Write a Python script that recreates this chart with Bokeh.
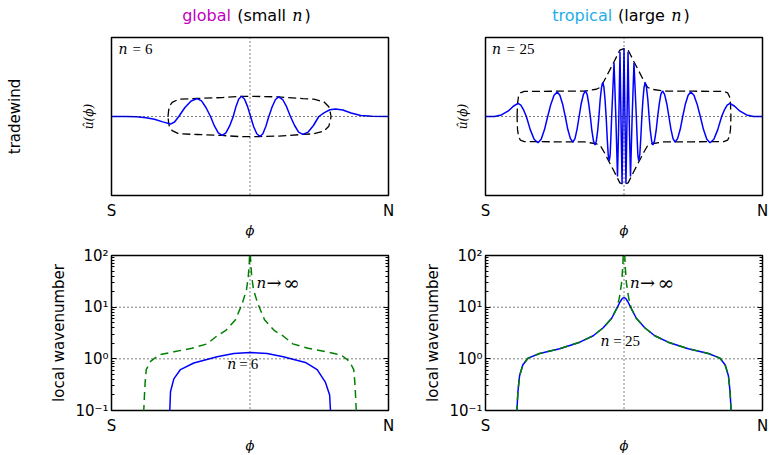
from math import pi
from bokeh.plotting import figure
from bokeh.models import (Range1d, FixedTicker, CustomJSTickFormatter, Label, Span,
                          LogAxis, LinearAxis)
from bokeh.layouts import row, column
from bokeh.embed import file_html
from bokeh.resources import INLINE
from bokeh.core.properties import value

SANS = "DejaVu Sans"
SERIF = "DejaVu Serif"
ROMAN = "Liberation Serif"

# ---------------- data ----------------
xtick_vals = [-1, 1]
xtick_labels = ["S", "N"]
ytick_vals = [0.1, 1, 10, 100]
ytick_labels = ["10\u207b\u00b9", "10\u2070", "10\u00b9", "10\u00b2"]
yminor_vals = [0.2, 0.3, 0.4, 0.5, 0.6, 0.7, 0.8, 0.9,
               2, 3, 4, 5, 6, 7, 8, 9,
               20, 30, 40, 50, 60, 70, 80, 90]
grid_decades = [1, 10]

# top-left: wave n=6
u6_x = [-1.0, -0.9, -0.82, -0.75, -0.69, -0.63, -0.574, -0.545, -0.514, -0.47, -0.425, -0.381,
        -0.35, -0.318, -0.285, -0.257, -0.229, -0.201, -0.174, -0.147, -0.121, -0.101, -0.081,
        -0.061, -0.04, -0.018, 0.004, 0.026, 0.049, 0.071, 0.093, 0.114, 0.136, 0.160, 0.184,
        0.208, 0.236, 0.264, 0.292, 0.322, 0.351, 0.381, 0.42, 0.458, 0.497, 0.537, 0.577,
        0.617, 0.67, 0.73, 0.80, 0.88, 1.0]
u6_y = [0, 0, -0.003, -0.015, -0.035, -0.068, -0.096, -0.07, 0, 0.114, 0.197, 0.227, 0.197,
        0.114, 0, -0.12, -0.208, -0.24, -0.208, -0.12, 0, 0.128, 0.222, 0.256, 0.222, 0.128, 0,
        -0.127, -0.219, -0.253, -0.219, -0.127, 0, 0.124, 0.215, 0.248, 0.215, 0.124, 0, -0.114,
        -0.197, -0.227, -0.197, -0.114, 0, 0.05, 0.085, 0.095, 0.083, 0.045, 0.012, 0.002, 0]
env6_x = [-0.592, -0.588, -0.582, -0.562, -0.514, -0.381, -0.201, -0.061, 0.071, 0.208, 0.381,
          0.461, 0.533, 0.569, 0.581, 0.585]
env6_a = [0.0, 0.07, 0.13, 0.178, 0.219, 0.228, 0.24, 0.256, 0.253, 0.248, 0.227, 0.219,
          0.186, 0.124, 0.041, 0.0]

# top-right: wave n=25
u25_x = [-1.0, -0.935, -0.885, -0.835, -0.799, -0.765, -0.745, -0.725, -0.705, -0.677, -0.649,
         -0.621, -0.598, -0.574, -0.551, -0.528, -0.505, -0.482, -0.463, -0.443, -0.424, -0.406,
         -0.387, -0.369, -0.354, -0.339, -0.324, -0.309, -0.293, -0.278, -0.266, -0.255, -0.243,
         -0.232, -0.220, -0.209, -0.200, -0.190, -0.181, -0.172, -0.162, -0.153, -0.145, -0.137,
         -0.129, -0.121, -0.114, -0.106, -0.100, -0.095, -0.089, -0.072, -0.059, -0.047, -0.037,
         -0.029, -0.022, -0.014, -0.007, 0.0,
         0.007, 0.014, 0.022, 0.029, 0.037, 0.047, 0.059, 0.072, 0.089, 0.095, 0.100, 0.106,
         0.114, 0.121, 0.129, 0.137, 0.145, 0.153, 0.162, 0.172, 0.181, 0.190, 0.200, 0.209,
         0.220, 0.232, 0.243, 0.255, 0.266, 0.278, 0.293, 0.309, 0.324, 0.339, 0.354, 0.369,
         0.387, 0.406, 0.424, 0.443, 0.463, 0.482, 0.505, 0.528, 0.551, 0.574, 0.598, 0.621,
         0.649, 0.677, 0.705, 0.725, 0.745, 0.765, 0.799, 0.835, 0.885, 0.935, 1.0]
u25_y = [0, 0, 0.02, 0.07, 0.13, 0.165, 0.143, 0.083, 0, -0.166, -0.288, -0.332, -0.288, -0.166,
         0, 0.156, 0.269, 0.311, 0.269, 0.156, 0, -0.162, -0.28, -0.323, -0.28, -0.162, 0, 0.162,
         0.28, 0.323, 0.28, 0.162, 0, -0.18, -0.312, -0.36, -0.312, -0.18, 0, 0.215, 0.372, 0.43,
         0.372, 0.215, 0, -0.28, -0.485, -0.56, -0.485, -0.28, 0, 0.68, 0, -0.76, 0, 0.82, 0,
         -0.85, 0, 0.86,
         0, -0.85, 0, 0.82, 0, -0.76, 0, 0.68, 0, -0.28, -0.485, -0.56, -0.485, -0.28, 0, 0.215,
         0.372, 0.43, 0.372, 0.215, 0, -0.18, -0.312, -0.36, -0.312, -0.18, 0, 0.162, 0.28,
         0.323, 0.28, 0.162, 0, -0.162, -0.28, -0.323, -0.28, -0.162, 0, 0.156, 0.269, 0.311,
         0.269, 0.156, 0, -0.166, -0.288, -0.332, -0.288, -0.166, 0, 0.083, 0.143, 0.165, 0.13,
         0.07, 0.02, 0, 0]
env25_x = [-0.772, -0.769, -0.762, -0.748, -0.72, -0.5, -0.286, -0.2, -0.17, -0.142, -0.07,
           -0.03, 0.0, 0.03, 0.07, 0.142, 0.17, 0.2, 0.286, 0.5, 0.72, 0.748, 0.762, 0.769, 0.772]
env25_a = [0.0, 0.16, 0.25, 0.3, 0.318, 0.32, 0.322, 0.345, 0.37, 0.456, 0.70, 0.84, 0.86, 0.84,
           0.70, 0.456, 0.37, 0.345, 0.322, 0.32, 0.318, 0.3, 0.25, 0.16, 0.0]

# bottom-left: local wavenumber, n=6 and n->inf
k6_x = [-0.58, -0.579, -0.574, -0.55, -0.502, -0.406, -0.237, -0.117, 0.0, 0.124, 0.24, 0.40,
        0.485, 0.545, 0.575, 0.581, 0.582]
k6_y = [0.05, 0.1, 0.23, 0.41, 0.62, 0.83, 1.10, 1.27, 1.33, 1.27, 1.10, 0.85, 0.62, 0.35,
        0.2, 0.1, 0.05]
kinfL_x = [-0.770, -0.767, -0.762, -0.757, -0.749, -0.718, -0.658, -0.55, -0.42, -0.309,
           -0.237, -0.177, -0.105, -0.056, -0.025, -0.012, -0.005, -0.001,
           0.001, 0.005, 0.012, 0.025, 0.056, 0.105, 0.177, 0.237, 0.309, 0.42, 0.55, 0.658,
           0.718, 0.749, 0.757, 0.762, 0.767, 0.770]
kinfL_y = [0.05, 0.1, 0.2, 0.35, 0.62, 0.89, 1.19, 1.37, 1.6, 1.95, 2.8, 3.5, 5.7, 11.7, 22,
           40, 75, 150,
           150, 75, 40, 22, 11.7, 5.7, 3.5, 2.8, 1.95, 1.6, 1.37, 1.19, 0.89, 0.62, 0.35, 0.2,
           0.1, 0.05]

# bottom-right: local wavenumber, n=25 and n->inf
k25_x = [-0.775, -0.773, -0.766, -0.754, -0.730, -0.693, -0.609, -0.464, -0.319, -0.222,
         -0.15, -0.089, -0.053, -0.029, -0.012, 0.0, 0.012, 0.029, 0.053, 0.089, 0.15, 0.222,
         0.319, 0.464, 0.609, 0.693, 0.730, 0.754, 0.766, 0.773, 0.775]
k25_y = [0.05, 0.1, 0.23, 0.47, 0.77, 1.03, 1.27, 1.57, 2.1, 2.8, 4.0, 6.1, 9.4, 12.6, 14.8,
         15.3, 14.8, 12.6, 9.4, 6.1, 4.0, 2.8, 2.1, 1.57, 1.27, 1.03, 0.77, 0.47, 0.23, 0.1,
         0.05]
kinfR_x = [-0.775, -0.773, -0.766, -0.754, -0.730, -0.693, -0.609, -0.464, -0.319, -0.222,
           -0.15, -0.089, -0.053, -0.034, -0.017, -0.009, -0.003,
           0.003, 0.009, 0.017, 0.034, 0.053, 0.089, 0.15, 0.222, 0.319, 0.464, 0.609, 0.693,
           0.730, 0.754, 0.766, 0.773, 0.775]
kinfR_y = [0.05, 0.1, 0.23, 0.47, 0.77, 1.03, 1.27, 1.57, 2.1, 2.8, 4.0, 6.1, 9.4, 15, 30, 60,
           150,
           150, 60, 30, 15, 9.4, 6.1, 4.0, 2.8, 2.1, 1.57, 1.27, 1.03, 0.77, 0.47, 0.23, 0.1,
           0.05]

# ---------------- helpers ----------------
FMT_CODE = """
for (let i = 0; i < vals.length; i++) {
  if (Math.abs(vals[i] - tick) <= 1e-9 * Math.max(1, Math.abs(tick))) { return labels[i]; }
}
return "";
"""

BLUE = "#0000ff"
GREEN = "#008000"


def blank_axis(ax, label, font, size, style, standoff):
    ax.ticker = FixedTicker(ticks=[])
    ax.axis_line_color = None
    ax.major_tick_in = 0
    ax.major_tick_out = 0
    ax.minor_tick_in = 0
    ax.minor_tick_out = 0
    ax.major_label_standoff = 0
    ax.axis_label = label
    ax.axis_label_text_font = font
    ax.axis_label_text_font_size = size
    ax.axis_label_text_font_style = style
    ax.axis_label_text_color = "black"
    ax.axis_label_standoff = standoff


def make_fig(w, h, bl, br, bt, bb, log=False):
    kw = dict(width=w, height=h, output_backend="svg", toolbar_location=None,
              x_range=Range1d(-1, 1), min_border_left=bl, min_border_right=br,
              min_border_top=bt, min_border_bottom=bb)
    if log:
        p = figure(y_axis_type="log", y_range=Range1d(0.1, 100), **kw)
    else:
        p = figure(y_range=Range1d(-1, 1), **kw)
    p.grid.visible = False
    p.outline_line_color = "black"
    p.outline_line_width = 1.5
    p.outline_line_alpha = 1.0
    p.background_fill_color = "white"
    p.border_fill_color = "white"
    xa = p.xaxis[0]
    xa.ticker = FixedTicker(ticks=xtick_vals)
    xa.formatter = CustomJSTickFormatter(args=dict(vals=xtick_vals, labels=xtick_labels),
                                         code=FMT_CODE)
    xa.major_tick_in = 0
    xa.major_tick_out = 0
    xa.minor_tick_in = 0
    xa.minor_tick_out = 0
    xa.axis_line_color = None
    xa.major_label_text_font = SANS
    xa.major_label_text_font_size = "15px"
    xa.major_label_text_color = "black"
    xa.major_label_standoff = 6
    xa.axis_label = "\u03d5"
    xa.axis_label_text_font = SERIF
    xa.axis_label_text_font_size = "13px"
    xa.axis_label_text_font_style = "italic"
    xa.axis_label_text_color = "black"
    xa.axis_label_standoff = 0
    if log:
        ticker = FixedTicker(ticks=ytick_vals, minor_ticks=yminor_vals)
        ya = p.yaxis[0]
        ya.ticker = ticker
        ya.formatter = CustomJSTickFormatter(args=dict(vals=ytick_vals, labels=ytick_labels),
                                             code=FMT_CODE)
        ya.major_tick_in = 5
        ya.major_tick_out = 0
        ya.minor_tick_in = 3
        ya.minor_tick_out = 0
        ya.axis_line_color = None
        ya.major_tick_line_color = "black"
        ya.minor_tick_line_color = "black"
        ya.major_label_text_font = SANS
        ya.major_label_text_font_size = "15px"
        ya.major_label_text_color = "black"
        ya.major_label_standoff = 3
        ya.axis_label = "local wavenumber"
        ya.axis_label_text_font = SANS
        ya.axis_label_text_font_size = "15px"
        ya.axis_label_text_font_style = "normal"
        ya.axis_label_text_color = "black"
        ya.axis_label_standoff = 4
        ra = LogAxis(ticker=ticker, formatter=CustomJSTickFormatter(code="return '';"),
                     major_tick_in=5, major_tick_out=0, minor_tick_in=3, minor_tick_out=0,
                     axis_line_color=None, major_label_standoff=0,
                     major_tick_line_color="black", minor_tick_line_color="black")
        p.add_layout(ra, "right")
        for d in grid_decades:
            p.add_layout(Span(location=d, dimension="width", line_color="black",
                              line_dash="1 3", line_width=1))
    else:
        blank_axis(p.yaxis[0], "\u00fb(\u03d5)", SERIF, "12px", "italic", 16)
        p.add_layout(Span(location=0, dimension="width", line_color="black",
                          line_dash="1 3", line_width=1))
    p.add_layout(Span(location=0, dimension="height", line_color="black",
                      line_dash="1 3", line_width=1))
    return p


def lab(p, x, y, text, dx=0, dy=0, font=ROMAN, size="15px", style="normal", color="black",
        align="left", baseline="middle"):
    p.add_layout(Label(x=x, y=y, x_offset=dx, y_offset=dy, text=text, text_font=font,
                       text_font_size=size, text_font_style=style, text_color=color,
                       text_align=align, text_baseline=baseline))


def nlab(p, x, y, dx=0, dy=0, size="14px"):
    lab(p, x, y, "n", dx=dx, dy=dy, font=SERIF, size=size, style="italic")


def envelope(p, ex, ea):
    xs = list(ex) + list(ex[::-1])
    ys = list(ea) + [-a for a in ea[::-1]]
    p.line(xs, ys, line_color="black", line_width=1.3, line_dash="8 4")


# ---------------- header (column titles) ----------------
HEAD_W, HEAD_H = 769, 30
head = figure(width=HEAD_W, height=HEAD_H, output_backend="svg", toolbar_location=None,
              x_range=Range1d(0, HEAD_W), y_range=Range1d(0, HEAD_H),
              x_axis_type=None, y_axis_type=None,
              min_border_left=0, min_border_right=0, min_border_top=0, min_border_bottom=0)
head.grid.visible = False
head.outline_line_color = None
head.background_fill_color = "white"
head.border_fill_color = "white"


def htext(x, txt, color="black", font=SANS, style="normal"):
    head.text(x=[x], y=[15], text=[txt], text_font=value(font), text_font_size="16px",
              text_font_style=style, text_color=color, text_align="left",
              text_baseline="middle")


htext(181.7, "global", color="#bf00bf")
htext(236.7, "(small")
htext(291.7, "n", font=SERIF, style="italic")
htext(304.0, ")")
htext(551.7, "tropical", color="#1eaee8")
htext(617.6, "(large")
htext(670.7, "n", font=SERIF, style="italic")
htext(683.0, ")")

# ---------------- panels ----------------
LW, RW = 420, 349
TH, BH = 210, 215

f1 = make_fig(LW, TH, 111, 32, 7, 42)
f2 = make_fig(RW, TH, 65, 7, 7, 42)
f3 = make_fig(LW, BH, 111, 32, 15, 39, log=True)
f4 = make_fig(RW, BH, 65, 7, 15, 39, log=True)

# extra left axis on the top-left panel for the row label
row_axis = LinearAxis()
blank_axis(row_axis, "tradewind", SANS, "15px", "normal", 55)
f1.add_layout(row_axis, "left")

# top-left
envelope(f1, env6_x, env6_a)
f1.line(u6_x, u6_y, line_color=BLUE, line_width=1.5)
nlab(f1, -1, 1, dx=7, dy=-11.3)
lab(f1, -1, 1, "=", dx=21, dy=-11.3)
lab(f1, -1, 1, "6", dx=33.5, dy=-11.3)

# top-right
envelope(f2, env25_x, env25_a)
f2.line(u25_x, u25_y, line_color=BLUE, line_width=1.5)
nlab(f2, -1, 1, dx=6.5, dy=-11.3)
lab(f2, -1, 1, "=", dx=21, dy=-11.3)
lab(f2, -1, 1, "25", dx=34, dy=-11.3)

# bottom-left
f3.line(k6_x, k6_y, line_color=BLUE, line_width=1.5)
f3.line(kinfL_x, kinfL_y, line_color=GREEN, line_width=1.5, line_dash="8 5")
nlab(f3, 0.047, 29.5, size="15px")
lab(f3, 0.047, 29.5, "\u2192", dx=10, font=SERIF, size="18px")
lab(f3, 0.047, 29.5, "\u221e", dx=26.5, font=SERIF, size="20px")
nlab(f3, -0.165, 0.81)
lab(f3, -0.165, 0.81, "=", dx=12)
lab(f3, -0.165, 0.81, "6", dx=23.5)

# bottom-right
f4.line(k25_x, k25_y, line_color=BLUE, line_width=1.5)
f4.line(kinfR_x, kinfR_y, line_color=GREEN, line_width=1.5, line_dash="8 5")
nlab(f4, 0.043, 29.5, size="15px")
lab(f4, 0.043, 29.5, "\u2192", dx=10, font=SERIF, size="18px")
lab(f4, 0.043, 29.5, "\u221e", dx=27.5, font=SERIF, size="20px")
nlab(f4, -0.169, 2.26)
lab(f4, -0.169, 2.26, "=", dx=12.6)
lab(f4, -0.169, 2.26, "25", dx=24.5)

layout = column(head, row(f1, f2), row(f3, f4))

open("out.html", "w").write(file_html(layout, INLINE))
